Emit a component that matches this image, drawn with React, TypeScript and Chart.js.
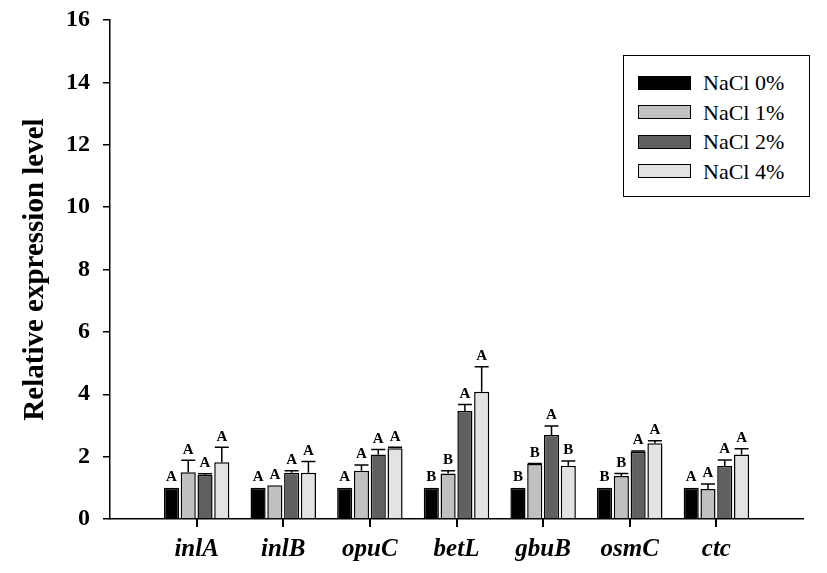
import React, { useEffect, useRef } from "react";
import { Chart, registerables } from "chart.js";

Chart.register(...registerables);

const genes = ["inlA", "inlB", "opuC", "betL", "gbuB", "osmC", "ctc"];
const seriesNames = ["NaCl 0%", "NaCl 1%", "NaCl 2%", "NaCl 4%"];

const nacl0 = [1.0, 1.0, 1.0, 1.0, 1.0, 1.0, 1.0];
const nacl1 = [1.5, 1.08, 1.55, 1.46, 1.76, 1.38, 0.96];
const nacl2 = [1.41, 1.48, 2.07, 3.46, 2.69, 2.16, 1.7];
const nacl4 = [1.82, 1.48, 2.27, 4.08, 1.71, 2.43, 2.07];

const err0 = [0, 0, 0, 0, 0, 0, 0];
const err1 = [0.38, 0, 0.18, 0.09, 0.02, 0.08, 0.16];
const err2 = [0.04, 0.07, 0.16, 0.21, 0.29, 0.02, 0.19];
const err4 = [0.48, 0.36, 0.03, 0.8, 0.15, 0.08, 0.18];

const sig0 = ["A", "A", "A", "B", "B", "B", "A"];
const sig1 = ["A", "A", "A", "B", "B", "B", "A"];
const sig2 = ["A", "A", "A", "A", "A", "A", "A"];
const sig4 = ["A", "A", "A", "A", "B", "A", "A"];

const yTicks = [0, 2, 4, 6, 8, 10, 12, 14, 16];

const colors = ["#000000", "#c0c0c0", "#606060", "#e3e3e3"];

export default function App() {
  const ref = useRef<HTMLCanvasElement | null>(null);

  useEffect(() => {
    document.body.style.margin = "0";
    const canvas = ref.current;
    if (!canvas) return;

    const values = [nacl0, nacl1, nacl2, nacl4];
    const errs = [err0, err1, err2, err4];
    const sigs = [sig0, sig1, sig2, sig4];
    const pad = (a: any[]) => [null, ...a, null];
    const labels = ["", ...genes, ""];

    const errPlugin = {
      id: "errLetters",
      afterDraw(chart: any) {
        const ctx = chart.ctx;
        const y = chart.scales.y;
        const bottom = chart.chartArea.bottom;
        const metas = chart.data.datasets.map((_: any, di: number) => chart.getDatasetMeta(di));
        ctx.save();
        // category tick marks, centred under each group of bars
        ctx.fillStyle = "#000000";
        for (let gi = 0; gi < genes.length; gi++) {
          const first = metas[0].data[gi + 1];
          const last = metas[metas.length - 1].data[gi + 1];
          const px = Math.round((first.x + last.x) / 2);
          ctx.fillRect(px - 1, bottom, 2, 8);
        }

        metas.forEach((meta: any, di: number) => {
          meta.data.forEach((el: any, i: number) => {
            const gi = i - 1;
            if (gi < 0 || gi >= genes.length) return;
            const v = values[di][gi];
            const e = errs[di][gi];
            const top = y.getPixelForValue(v);
            let labelY = top;
            if (e > 0) {
              const et = y.getPixelForValue(v + e);
              ctx.strokeStyle = "#000";
              ctx.lineWidth = 1.5;
              ctx.beginPath();
              ctx.moveTo(el.x, top);
              ctx.lineTo(el.x, et);
              ctx.moveTo(el.x - 7, et);
              ctx.lineTo(el.x + 7, et);
              ctx.stroke();
              labelY = et;
            }
            ctx.fillStyle = "#000";
            ctx.font = "bold 15px 'Liberation Serif', serif";
            ctx.textAlign = "center";
            ctx.textBaseline = "bottom";
            ctx.fillText(sigs[di][gi], el.x, labelY - 3);
          });
        });
        ctx.restore();
      },
    };

    const chart = new Chart(canvas, {
      type: "bar",
      data: {
        labels,
        datasets: values.map((vals, k) => ({
          label: seriesNames[k],
          data: pad(vals),
          backgroundColor: colors[k],
          borderColor: "#000",
          borderWidth: 1.5,
          categoryPercentage: 0.775,
          barPercentage: 0.9,
        })),
      },
      options: {
        animation: false,
        responsive: false,
        maintainAspectRatio: false,
        layout: { padding: { top: 20, right: 24, bottom: 0, left: 0 } },
        plugins: {
          legend: { display: false },
          tooltip: { enabled: false },
        },
        scales: {
          x: {
            offset: false,
            grid: {
              display: false,
            },
            border: { display: true, color: "#000", width: 1.5 },
            ticks: {
              autoSkip: false,
              maxRotation: 0,
              color: "#000",
              padding: 8,
              font: { family: "'Liberation Serif', serif", size: 25, weight: "bold", style: "italic" },
            },
            afterFit: (s: any) => {
              s.height = 54;
              s.paddingLeft = 0;
              s.paddingRight = 0;
            },
          },
          y: {
            min: 0,
            max: 16,
            afterBuildTicks: (s: any) => {
              s.ticks = yTicks.map((v) => ({ value: v }));
            },
            grid: {
              display: true,
              drawOnChartArea: false,
              drawTicks: true,
              tickLength: 7,
              tickColor: "#000",
              lineWidth: 1.5,
            },
            border: { display: true, color: "#000", width: 1.5 },
            ticks: {
              color: "#000",
              padding: 13,
              font: { family: "'Liberation Serif', serif", size: 24, weight: "bold" },
            },
            title: {
              display: true,
              text: "Relative expression level",
              color: "#000",
              padding: { top: 18, bottom: 0 },
              font: { family: "'Liberation Serif', serif", size: 29, weight: "bold" },
            },
            afterFit: (s: any) => {
              s.width = 110;
              s.paddingTop = 0;
              s.paddingBottom = 0;
            },
          },
        },
      },
      plugins: [errPlugin],
    });

    return () => chart.destroy();
  }, []);

  const legendTextStyle: React.CSSProperties = {
    fontFamily: "'Liberation Serif', serif",
    fontSize: 22,
    color: "#000",
    lineHeight: "29px",
    whiteSpace: "nowrap",
  };

  return (
    <div style={{ position: "relative", width: 827, height: 573, background: "#fff" }}>
      <canvas ref={ref} width={827} height={573} style={{ display: "block" }} />
      <div
        style={{
          position: "absolute",
          left: 623,
          top: 55,
          width: 187,
          height: 142,
          border: "1.5px solid #000",
          boxSizing: "border-box",
          paddingTop: 12,
          paddingLeft: 14,
          background: "#fff",
        }}
      >
        {seriesNames.map((n, k) => (
          <div key={n} style={{ display: "flex", alignItems: "center", height: 29.5 }}>
            <div
              style={{
                width: 53,
                height: 14,
                background: colors[k],
                border: "1.5px solid #000",
                boxSizing: "border-box",
                marginRight: 12,
              }}
            />
            <span style={legendTextStyle}>{n}</span>
          </div>
        ))}
      </div>
    </div>
  );
}
